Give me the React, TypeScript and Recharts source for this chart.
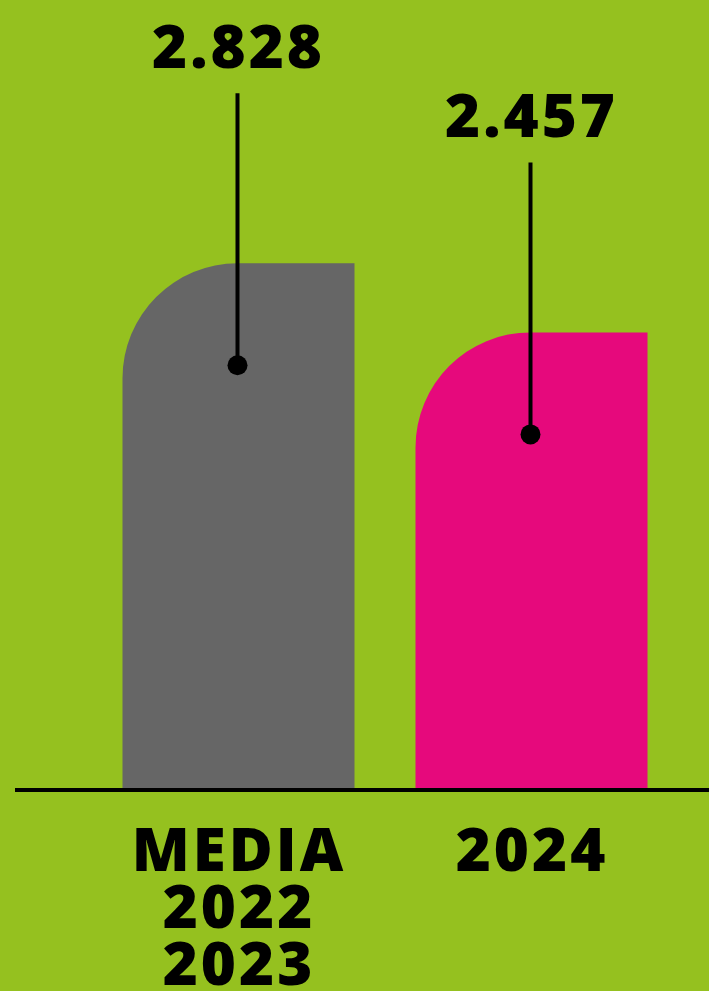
import React from 'react';
import { BarChart, Bar, XAxis, YAxis, Cell, LabelList } from 'recharts';

const categories = ['MEDIA\n2022\n2023', '2024'];
const values = [2828, 2457];
const valueLabels = ['2.828', '2.457'];
const barColors = ['#666666', '#E6097C'];

const data = categories.map((name, i) => ({ name, value: values[i], label: valueLabels[i] }));

const FONT = '"Open Sans", sans-serif';

const CategoryTick = ({ x, y, payload }: any) => {
  const lines = String(payload.value).split('\n');
  return (
    <text
      x={x}
      y={y}
      textAnchor="middle"
      fontFamily={FONT}
      fontWeight={800}
      fontSize={60}
      letterSpacing={3}
      fill="#000"
    >
      {lines.map((l, i) => (
        <tspan key={i} x={x + 1} y={y + 73 + i * 57}>
          {l}
        </tspan>
      ))}
    </text>
  );
};

const Pin = (props: any) => {
  const { x, y, width, index } = props;
  const cx = x + width / 2 - 1;
  return (
    <g>
      <line x1={cx} x2={cx} y1={y + 102} y2={y - 170} stroke="#000" strokeWidth={4} />
      <circle cx={cx} cy={y + 102} r={10} fill="#000" />
      <text
        x={cx + 1}
        y={y - 195}
        textAnchor="middle"
        fontFamily={FONT}
        fontWeight={800}
        fontSize={60}
        letterSpacing={3}
        fill="#000"
      >
        {data[index].label}
      </text>
    </g>
  );
};

export default function App() {
  return (
    <div style={{ position: 'absolute', left: 0, top: 0, width: 709, height: 991, background: '#95C11F', overflow: 'hidden' }}>
      <BarChart width={709} height={991} data={data} margin={{ top: 45, right: 0, bottom: 0, left: 15 }}>
        <XAxis
          dataKey="name"
          height={201}
          axisLine={{ stroke: '#000', strokeWidth: 4 }}
          tickLine={false}
          tick={<CategoryTick />}
          interval={0}
          padding={{ left: 76.5, right: 31.5 }}
        />
        <YAxis hide domain={[0, 4000]} />
        <Bar dataKey="value" barSize={232} radius={[115, 0, 0, 0]} isAnimationActive={false}>
          {data.map((d, i) => (
            <Cell key={d.name} fill={barColors[i]} />
          ))}
          <LabelList dataKey="value" content={<Pin />} />
        </Bar>
      </BarChart>
    </div>
  );
}
